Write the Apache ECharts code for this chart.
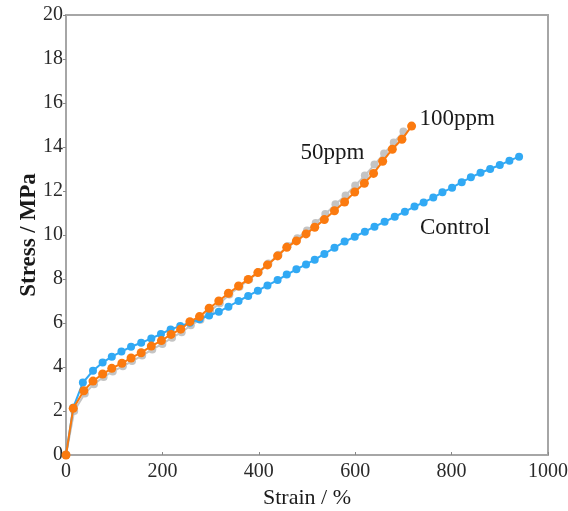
<!DOCTYPE html>
<html>
<head>
<meta charset="utf-8">
<script src="https://cdn.jsdelivr.net/npm/echarts@6/dist/echarts.min.js"></script>
<style>
  html, body { margin: 0; padding: 0; background: #fff; }
  #chart { width: 568px; height: 511px; }
</style>
</head>
<body>
<div id="chart"></div>
<script>
// strain (%) and stress (MPa)
const controlStrain = [0, 15, 35, 56, 76, 95, 115, 135, 156, 177, 197, 217, 237, 257, 277, 297, 317, 337, 358, 378, 398, 418, 439, 458, 478, 498, 516, 536, 557, 578, 599, 620, 640, 661, 682, 703, 723, 742, 762, 781, 801, 821, 840, 860, 880, 900, 920, 940];
const controlStress = [0, 2.15, 3.29, 3.83, 4.2, 4.47, 4.7, 4.92, 5.1, 5.3, 5.5, 5.71, 5.86, 6.01, 6.17, 6.34, 6.51, 6.74, 7.0, 7.23, 7.47, 7.71, 7.95, 8.2, 8.44, 8.66, 8.88, 9.14, 9.42, 9.7, 9.92, 10.15, 10.38, 10.6, 10.83, 11.06, 11.29, 11.48, 11.7, 11.94, 12.15, 12.4, 12.62, 12.83, 13.0, 13.18, 13.38, 13.56];

const ppm100Strain = [0, 15, 37, 56, 76, 95, 116, 135, 156, 177, 198, 218, 238, 257, 277, 297, 317, 337, 358, 378, 398, 418, 439, 458, 478, 498, 516, 536, 557, 578, 599, 619, 638, 657, 677, 697, 717];
const ppm100Stress = [0, 2.12, 2.92, 3.36, 3.68, 3.94, 4.17, 4.41, 4.65, 4.95, 5.2, 5.48, 5.72, 6.06, 6.29, 6.67, 7.0, 7.35, 7.68, 7.98, 8.29, 8.64, 9.05, 9.44, 9.73, 10.05, 10.35, 10.7, 11.1, 11.5, 11.95, 12.35, 12.8, 13.35, 13.9, 14.35, 14.95];

const ppm50Strain = [0, 17, 39, 58, 78, 97, 118, 137, 158, 179, 200, 220, 240, 259, 279, 299, 319, 339, 360, 380, 400, 420, 441, 460, 480, 500, 518, 538, 559, 580, 600, 620, 640, 660, 680, 700];
const ppm50Stress = [0, 2.0, 2.8, 3.22, 3.55, 3.8, 4.03, 4.27, 4.52, 4.8, 5.05, 5.33, 5.58, 5.9, 6.15, 6.55, 6.9, 7.3, 7.65, 7.98, 8.32, 8.7, 9.1, 9.5, 9.85, 10.2, 10.55, 10.95, 11.4, 11.8, 12.25, 12.7, 13.2, 13.7, 14.2, 14.7];

const xTicks = [0, 200, 400, 600, 800, 1000];
const yTicks = [0, 2, 4, 6, 8, 10, 12, 14, 16, 18, 20];

const serif = "'Liberation Serif', 'DejaVu Serif', serif";

function pairs(xs, ys) {
  return xs.map((x, i) => [x, ys[i]]);
}

const chart = echarts.init(document.getElementById("chart"));

const option = {
  animation: false,
  backgroundColor: "#fff",
  grid: {
    left: 66,
    right: 20,
    top: 15,
    bottom: 56,
    outerBoundsMode: "none",
    containLabel: false,
    show: true,
    borderColor: "#a6a6a6",
    borderWidth: 2,
  },
  xAxis: {
    type: "value",
    min: xTicks[0],
    max: xTicks[xTicks.length - 1],
    interval: 200,
    name: "Strain / %",
    nameLocation: "middle",
    nameGap: 32,
    nameTextStyle: { fontFamily: serif, fontSize: 22, color: "#1a1a1a" },
    axisLine: { show: true, lineStyle: { color: "#a6a6a6", width: 2 } },
    axisTick: { show: true, inside: true, length: 3, lineStyle: { color: "#888" } },
    axisLabel: {
      fontFamily: serif,
      fontSize: 20,
      color: "#2a2a2a",
      margin: 7,
      formatter: (v) => String(v),
    },
    splitLine: { show: false },
  },
  yAxis: {
    type: "value",
    min: yTicks[0],
    max: yTicks[yTicks.length - 1],
    interval: 2,
    name: "Stress / MPa",
    nameLocation: "middle",
    nameGap: 25,
    nameMoveOverlap: false,
    nameTextStyle: { fontFamily: serif, fontSize: 23, fontWeight: "bold", color: "#1a1a1a" },
    axisLine: { show: true, lineStyle: { color: "#a6a6a6", width: 2 } },
    axisTick: { show: true, length: 3, lineStyle: { color: "#888" } },
    axisLabel: { fontFamily: serif, fontSize: 20, color: "#2a2a2a", margin: 3 },
    splitLine: { show: false },
  },
  series: [
    {
      name: "50ppm",
      type: "line",
      data: pairs(ppm50Strain, ppm50Stress),
      symbol: "circle",
      symbolSize: 8,
      showAllSymbol: true,
      itemStyle: { color: "#c4c4c4" },
      lineStyle: { color: "#c4c4c4", width: 2 },
      endLabel: {
        show: true,
        formatter: "50ppm",
        fontFamily: serif,
        fontSize: 23,
        color: "#1a1a1a",
        align: "center",
        verticalAlign: "middle",
        offset: [-79, 21],
      },
      z: 2,
    },
    {
      name: "Control",
      type: "line",
      data: pairs(controlStrain, controlStress),
      symbol: "circle",
      symbolSize: 8,
      showAllSymbol: true,
      itemStyle: { color: "#31a9f4" },
      lineStyle: { color: "#31a9f4", width: 2 },
      endLabel: {
        show: true,
        formatter: "Control",
        fontFamily: serif,
        fontSize: 23,
        color: "#1a1a1a",
        align: "center",
        verticalAlign: "middle",
        offset: [-72, 71],
      },
      z: 3,
    },
    {
      name: "100ppm",
      type: "line",
      data: pairs(ppm100Strain, ppm100Stress),
      symbol: "circle",
      symbolSize: 9,
      showAllSymbol: true,
      itemStyle: { color: "#fb7a0f" },
      lineStyle: { color: "#fb7a0f", width: 2 },
      endLabel: {
        show: true,
        formatter: "100ppm",
        fontFamily: serif,
        fontSize: 23,
        color: "#1a1a1a",
        align: "left",
        verticalAlign: "middle",
        offset: [0, -7],
      },
      z: 4,
    },
  ],
};

chart.setOption(option);
</script>
</body>
</html>
